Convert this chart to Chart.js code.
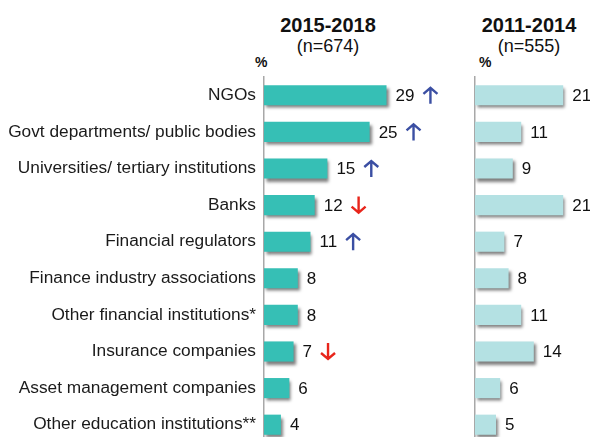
<!DOCTYPE html>
<html>
<head>
<meta charset="utf-8">
<script src="https://cdn.jsdelivr.net/npm/chart.js@4"></script>
<style>
    html, body { margin: 0; padding: 0; background: #fff; overflow: hidden; }
    body { width: 590px; height: 437px; position: relative; font-family: "Liberation Sans", Arial, sans-serif; color: #111; }
    .head { position: absolute; text-align: center; line-height: 1; }
    .head b { display: block; font-size: 20px; }
    .head span { display: block; font-size: 18px; margin-top: 2px; }
    .pct { position: absolute; font-weight: bold; font-size: 14px; }
    canvas { position: absolute; top: 0; }
</style>
</head>
<body>
<div class="head" style="left:268px; top:15px; width:120px;"><b>2015-2018</b><span>(n=674)</span></div>
<div class="head" style="left:469px; top:15px; width:120px;"><b>2011-2014</b><span>(n=555)</span></div>
<div class="pct" style="left:255px; top:54px;">%</div>
<div class="pct" style="left:479px; top:54px;">%</div>
<div style="position:absolute; left:0; top:0; width:470px; height:443px;"><canvas id="recentChart"></canvas></div>
<div style="position:absolute; left:470px; top:0; width:120px; height:443px;"><canvas id="earlierChart"></canvas></div>
<script>
const categories = [
    "NGOs",
    "Govt departments/ public bodies",
    "Universities/ tertiary institutions",
    "Banks",
    "Financial regulators",
    "Finance industry associations",
    "Other financial institutions*",
    "Insurance companies",
    "Asset management companies",
    "Other education institutions**"
];
const recentValues = [29, 25, 15, 12, 11, 8, 8, 7, 6, 4];
const earlierValues = [21, 11, 9, 21, 7, 8, 11, 14, 6, 5];
const changeArrows = ["up", "up", "up", "down", "up", "", "", "down", "", ""];

const drawArrow = (ctx, x, y, dir) => {
    const h = 17;
    const w = 14;
    ctx.save();
    ctx.strokeStyle = dir === "up" ? "#3b4fa3" : "#e8251b";
    ctx.lineWidth = 2.4;
    ctx.lineCap = "butt";
    ctx.lineJoin = "miter";
    const top = y - h / 2;
    const bottom = y + h / 2;
    const cx = x + w / 2;
    ctx.beginPath();
    if (dir === "up") {
        ctx.moveTo(cx, bottom);
        ctx.lineTo(cx, top + 1);
        ctx.moveTo(x, top + w / 2);
        ctx.lineTo(cx, top + 1);
        ctx.lineTo(x + w, top + w / 2);
    } else {
        ctx.moveTo(cx, top);
        ctx.lineTo(cx, bottom - 1);
        ctx.moveTo(x, bottom - w / 2);
        ctx.lineTo(cx, bottom - 1);
        ctx.lineTo(x + w, bottom - w / 2);
    }
    ctx.stroke();
    ctx.restore();
};

const barDecor = (arrows) => ({
    id: "barDecor",
    beforeDatasetsDraw(chart) {
        const ctx = chart.ctx;
        ctx.save();
        ctx.shadowColor = "rgba(0, 0, 0, 0.5)";
        ctx.shadowOffsetX = 2;
        ctx.shadowOffsetY = 3;
        ctx.shadowBlur = 3;
    },
    afterDatasetsDraw(chart) {
        const ctx = chart.ctx;
        ctx.restore();
        const meta = chart.getDatasetMeta(0);
        const values = chart.data.datasets[0].data;
        ctx.save();
        ctx.font = "17px 'Liberation Sans', Arial, sans-serif";
        ctx.fillStyle = "#111";
        ctx.textBaseline = "middle";
        ctx.textAlign = "left";
        meta.data.forEach((bar, i) => {
            const text = String(values[i]);
            const x = bar.x + 9;
            ctx.fillText(text, x, bar.y + 1);
            if (arrows && arrows[i]) {
                drawArrow(ctx, x + ctx.measureText(text).width + 9, bar.y, arrows[i]);
            }
        });
        ctx.restore();
    }
});

const buildPanel = (canvasId, values, color, axisWidth, maxValue, rightPad, showLabels, arrows) => {
    const canvas = document.getElementById(canvasId);
    return new Chart(canvas, {
        type: "bar",
        data: {
            labels: categories,
            datasets: [{
                data: values,
                backgroundColor: color,
                borderWidth: 0,
                barPercentage: 0.55,
                categoryPercentage: 1
            }]
        },
        options: {
            indexAxis: "y",
            responsive: true,
            maintainAspectRatio: false,
            animation: false,
            events: [],
            layout: { padding: { top: 77, bottom: 0, left: 0, right: rightPad } },
            plugins: {
                legend: { display: false },
                tooltip: { enabled: false }
            },
            scales: {
                x: {
                    display: false,
                    min: 0,
                    max: maxValue
                },
                y: {
                    afterFit: (scale) => {
                        scale.width = axisWidth;
                        scale.paddingTop = 0;
                        scale.paddingBottom = 0;
                    },
                    grid: { display: false, drawTicks: false },
                    border: { display: true, color: "#a8a8a8", width: 1.5 },
                    ticks: {
                        display: showLabels,
                        padding: 8,
                        color: "#1a1a1a",
                        font: { family: "'Liberation Sans', Arial, sans-serif", size: 17.3 }
                    }
                }
            }
        },
        plugins: [barDecor(arrows)]
    });
};

buildPanel("recentChart", recentValues, "#36bfb5", 264, 40, 37, true, changeArrows);
buildPanel("earlierChart", earlierValues, "#b4e1e3", 5, 25, 10, false, null);
</script>
</body>
</html>
